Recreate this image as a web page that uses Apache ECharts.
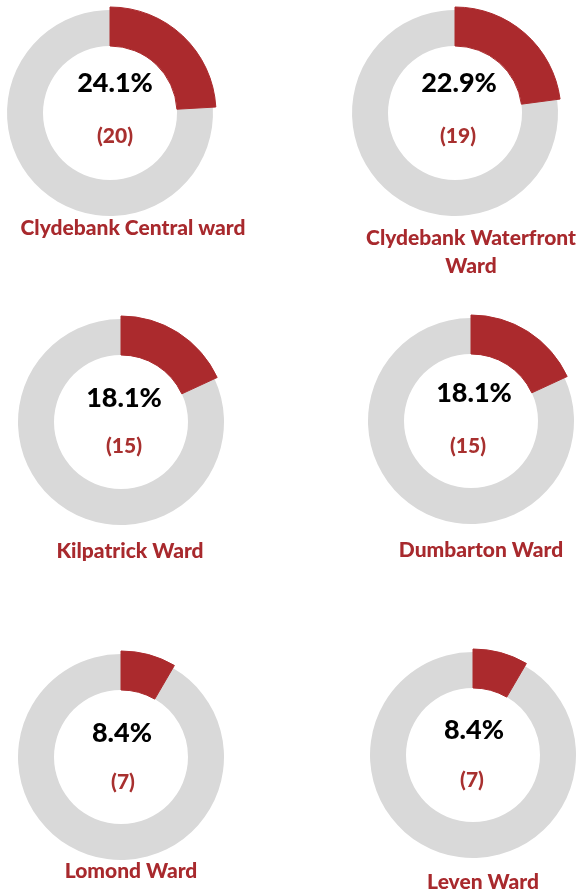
<!DOCTYPE html>
<html>
<head>
<meta charset="utf-8">
<script src="https://cdn.jsdelivr.net/npm/echarts@6/dist/echarts.min.js"></script>
<style>
html,body{margin:0;padding:0;background:#fff;}
#c{width:580px;height:895px;}
</style>
</head>
<body>
<div id="c"></div>
<script>
// Data
var wards = ['Clydebank Central ward', 'Clydebank Waterfront\nWard', 'Kilpatrick Ward', 'Dumbarton Ward', 'Lomond Ward', 'Leven Ward'];
var percents = [24.1, 22.9, 18.1, 18.1, 8.4, 8.4];
var counts = [20, 19, 15, 15, 7, 7];

// Layout (positions only)
var centers = [[110, 113], [455, 113], [121, 422], [471, 421], [121, 757], [473, 755]];
var pctPos = [[115, 83], [459, 83], [124, 398], [474, 393], [122, 733], [474, 730]];
var cntPos = [[115, 136], [458, 136], [124, 446], [468, 446], [123, 782], [472, 780]];
var lblPos = [[133, 228], [471, 252], [130, 551], [481, 550], [131, 871], [483, 882]];

var RED = '#AB2A2D';
var GREY = '#D9D9D9';
var FONT = 'Lato, "Open Sans", sans-serif';

var series = [];
var graphics = [];
percents.forEach(function (p, i) {
  series.push({
    type: 'pie', silent: true, animation: false,
    center: centers[i], radius: [67, 103], startAngle: 90, clockwise: true,
    label: {show: false}, labelLine: {show: false},
    data: [
      {value: p, itemStyle: {color: GREY}},
      {value: 100 - p, itemStyle: {color: GREY}}
    ]
  });
  series.push({
    type: 'pie', silent: true, animation: false,
    center: centers[i], radius: [67, 106], startAngle: 90, clockwise: true,
    label: {show: false}, labelLine: {show: false},
    data: [
      {value: p, itemStyle: {color: RED, borderColor: RED, borderWidth: 1}},
      {value: 100 - p, itemStyle: {color: 'rgba(0,0,0,0)'}}
    ]
  });
  graphics.push({
    type: 'text', x: pctPos[i][0], y: pctPos[i][1],
    style: {text: p.toFixed(1) + '%', fill: '#000', font: '900 27px ' + FONT, align: 'center', verticalAlign: 'middle'}
  });
  graphics.push({
    type: 'text', x: cntPos[i][0], y: cntPos[i][1],
    style: {text: '(' + counts[i] + ')', fill: '#A8302F', font: '900 21px ' + FONT, align: 'center', verticalAlign: 'middle'}
  });
  graphics.push({
    type: 'text', x: lblPos[i][0], y: lblPos[i][1],
    style: {text: wards[i], fill: '#A8292D', font: '900 21px ' + FONT, align: 'center', verticalAlign: 'middle', lineHeight: 28}
  });
});

var chart = echarts.init(document.getElementById('c'), null, {renderer: 'canvas'});
chart.setOption({
  animation: false,
  series: series,
  graphic: graphics
});
</script>
</body>
</html>
